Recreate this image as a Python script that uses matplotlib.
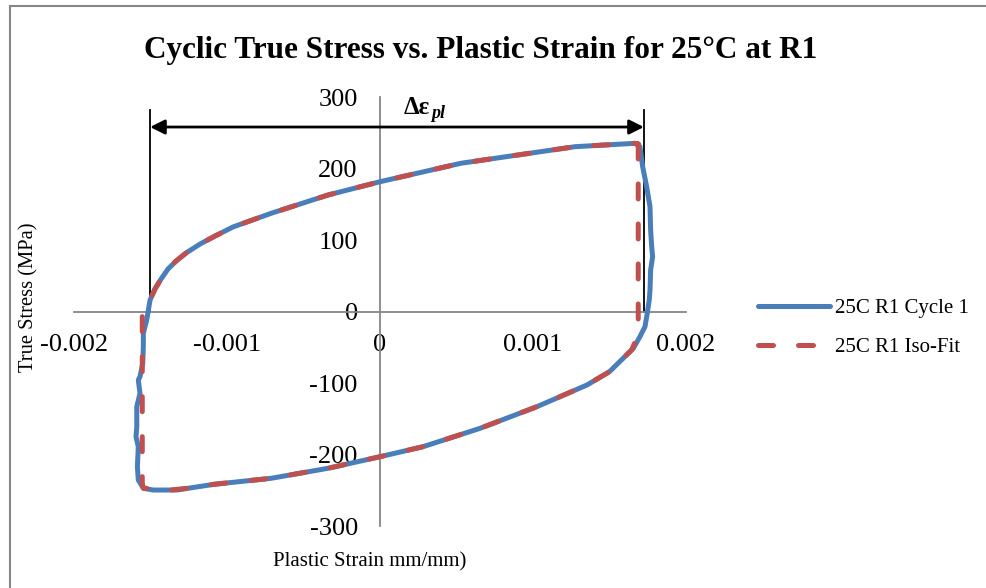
import matplotlib
matplotlib.use('Agg')
import matplotlib.pyplot as plt
from matplotlib.patches import Rectangle

plt.rcParams['font.family'] = ['Liberation Serif', 'DejaVu Serif']
plt.rcParams['axes.unicode_minus'] = False

# Cycle 1 measured loop (plastic strain mm/mm, true stress MPa)
strain_cycle = [0.001667, 0.001275, 0.000902, 0.000529, 0.0, -0.000340, -0.000712, -0.000961,
                -0.001078, -0.001176, -0.001268, -0.001333, -0.001386, -0.001431, -0.001471,
                -0.001503, -0.001525, -0.001547,
                -0.001547, -0.001551, -0.001569, -0.001580, -0.001569, -0.001590, -0.001590,
                -0.001595, -0.001580, -0.001586, -0.001580, -0.001547, -0.001482, -0.001329,
                -0.001085, -0.000712, -0.000340, 0.0, 0.000281, 0.000654, 0.001026, 0.001353,
                0.001500, 0.001656, 0.001699, 0.001732, 0.001747, 0.001760, 0.001765, 0.001769,
                0.001782, 0.001776, 0.001769, 0.001765, 0.001743, 0.001717, 0.001699, 0.001667]
stress_cycle = [235.9, 231.2, 219.6, 208.0, 182.2, 163.6, 138.0, 118.9,
                106.3, 95.1, 82.5, 71.3, 60.1, 46.2, 32.2,
                16.8, -11.2, -29.8,
                -48.5, -71.7, -90.5, -95.1, -113.7, -132.4, -160.4,
                -174.4, -188.4, -216.4, -235.0, -246.6, -249.0, -249.0,
                -241.0, -232.6, -218.6, -202.4, -188.4, -162.7, -132.4, -102.1,
                -83.5, -50.8, -34.5, -20.6, -1.8, 16.8, 30.8, 58.7,
                77.3, 91.3, 114.7, 147.3, 175.2, 203.2, 231.2, 235.9]

# Iso-Fit loop
strain_fit = [0.001688, 0.001688, 0.001673, 0.001645, 0.001500, 0.001353, 0.001026, 0.000654,
              0.000281, 0.0, -0.000340, -0.000712, -0.001085, -0.001263, -0.001405, -0.001547,
              -0.001554, -0.001554, -0.001536, -0.001503, -0.001471, -0.001431, -0.001386,
              -0.001333, -0.001268, -0.001176, -0.001078, -0.000961, -0.000712, -0.000340,
              0.0, 0.000529, 0.000902, 0.001275, 0.001654, 0.001688]
stress_fit = [235.0, -25.2, -39.2, -53.1, -83.5, -102.1, -132.4, -162.7,
              -188.4, -202.4, -218.6, -232.6, -241.0, -246.6, -249.9, -246.2,
              -239.2, 5.6, 12.0, 16.8, 32.2, 46.2, 60.1,
              71.3, 82.5, 95.1, 106.3, 118.9, 138.0, 163.6,
              182.2, 208.0, 219.6, 231.2, 235.9, 235.0]

x_ticks = [-0.002, -0.001, 0, 0.001, 0.002]
x_tick_labels = ['-0.002', '-0.001', '0', '0.001', '0.002']
y_ticks = [-300, -200, -100, 0, 100, 200, 300]
y_tick_labels = ['-300', '-200', '-100', '0', '100', '200', '300']

# range markers for delta eps_pl
delta_left = -0.001503
delta_right = 0.001725
delta_top = 282.5
delta_arrow_y = 258.7

BLUE = '#4A7EBB'
RED = '#C0504D'
GRAY = '#868686'

fig = plt.figure(figsize=(9.86, 5.88), dpi=100)
ax = fig.add_axes([0.0751, 0.1046, 0.6206, 0.7296])

ax.plot(strain_cycle, stress_cycle, color=BLUE, lw=3.6, solid_joinstyle='round',
        solid_capstyle='round', label='25C R1 Cycle 1', zorder=3)
ax.plot(strain_fit, stress_fit, color=RED, lw=3.6, linestyle=(0, (3, 5)),
        dash_capstyle='round', label='25C R1 Iso-Fit', zorder=4)

ax.set_xlim(-0.002, 0.002)
ax.set_ylim(-300, 300)
for s in ['top', 'right']:
    ax.spines[s].set_visible(False)
for s in ['left', 'bottom']:
    ax.spines[s].set_position('zero')
    ax.spines[s].set_color(GRAY)
    ax.spines[s].set_linewidth(1.3)
ax.set_xticks(x_ticks)
ax.set_xticklabels(x_tick_labels)
ax.set_yticks(y_ticks)
ax.set_yticklabels(y_tick_labels)
ax.tick_params(length=0, pad=16, labelsize=19)
ax.patch.set_visible(False)

# delta eps annotation
ax.plot([delta_left, delta_left], [0, delta_top], color='black', lw=1.3, zorder=2)
ax.plot([delta_right, delta_right], [0, delta_top], color='black', lw=1.3, zorder=2)
ax.annotate('', xy=(delta_right, delta_arrow_y), xytext=(delta_left, delta_arrow_y),
            arrowprops=dict(arrowstyle='<|-|>', color='black', lw=2,
                            mutation_scale=22, shrinkA=0, shrinkB=0))
fig.text(417 / 986, 1 - 107 / 588, 'Δε', fontsize=18, fontweight='bold',
         ha='center', va='center')
fig.text(438 / 986, 1 - 113 / 588, 'pl', fontsize=13, fontweight='bold',
         fontstyle='italic', ha='center', va='center')

fig.text(481 / 986, 1 - 58 / 588, 'Cyclic True Stress vs. Plastic Strain for 25°C at R1',
         fontsize=22.5, fontweight='bold', ha='center', va='baseline')
fig.text(29 / 986, 1 - 297 / 588, 'True Stress (MPa)', fontsize=14.8,
         rotation=90, ha='center', va='center')
fig.text(370 / 986, 1 - 562 / 588, 'Plastic Strain mm/mm)', fontsize=15,
         ha='center', va='center')

fig.legend(loc='center left', bbox_to_anchor=(758 / 986, 1 - 328 / 588),
           frameon=False, fontsize=15, handlelength=3.46, handletextpad=0.25,
           labelspacing=0.92, borderpad=0, borderaxespad=0)

fig.patches.append(Rectangle((10 / 986, -0.05), 1.2, 1 - 6 / 588 + 0.05,
                             transform=fig.transFigure, fill=False,
                             edgecolor=GRAY, lw=1.5))

fig.savefig('out.png', dpi=100)
